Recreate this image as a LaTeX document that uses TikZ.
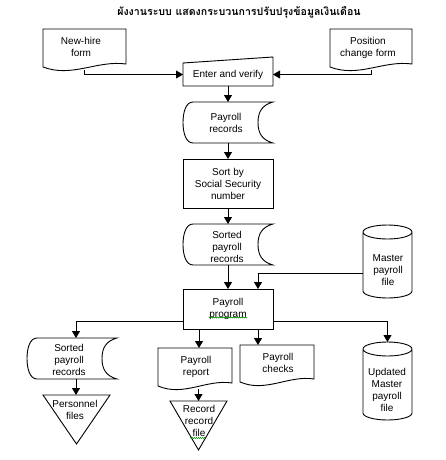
\documentclass[tikz,border=0pt]{standalone}
\usepackage{fontspec}
\setmainfont{Liberation Sans}
\newfontfamily\thaifont[Script=Thai]{Loma}
\usetikzlibrary{arrows.meta,calc,decorations.pathmorphing}

\newcommand\docshape[1]{%
  \draw[outl] let \p1=(#1.south west), \p2=(#1.north east) in
    (#1.north west) -- (#1.north east) -- (\x2,{\y1+6pt})
    .. controls ({\x2-0.35*(\x2-\x1)},{\y1+10pt}) and ({\x1+0.35*(\x2-\x1)},{\y1-8pt}) .. (\x1,{\y1+3pt})
    -- cycle;}
\newcommand\sdshape[1]{%
  \draw[outl] let \p1=(#1.south west), \p2=(#1.north east) in
    ({\x1+10pt},\y2) -- (\x2,\y2)
    .. controls ({\x2-11pt},{\y2-3pt}) and ({\x2-15pt},{\y2-10pt}) .. ({\x2-15pt},{0.5*(\y1+\y2)})
    .. controls ({\x2-15pt},{\y1+10pt}) and ({\x2-11pt},{\y1+3pt}) .. (\x2,\y1)
    -- ({\x1+10pt},\y1)
    .. controls ({\x1+3pt},\y1) and (\x1,{\y1+10pt}) .. (\x1,{0.5*(\y1+\y2)})
    .. controls (\x1,{\y2-10pt}) and ({\x1+3pt},\y2) .. ({\x1+10pt},\y2);}
\newcommand\cylshape[1]{%
  \draw[outl] let \p1=(#1.south west), \p2=(#1.north east) in
    (\x1,{\y2-7pt}) -- (\x1,{\y1+7pt})
    arc[start angle=180,end angle=360,x radius=24.5pt,y radius=7pt]
    -- (\x2,{\y2-7pt})
    ({0.5*(\x1+\x2)},{\y2-7pt}) ellipse [x radius=24.5pt,y radius=7pt];}
\newcommand\trishape[1]{%
  \draw[outl] (#1.north west) -- (#1.north east) -- (#1.south) -- cycle;}
\newcommand\manshape[1]{%
  \draw[outl] (#1.south west) -- (#1.north west) -- ([yshift=6pt]#1.north east) -- (#1.south east) -- cycle;}

\begin{document}
\begin{tikzpicture}[x=1pt,y=-1pt,
  line width=0.9pt,
  outl/.style={line width=0.9pt, line join=miter},
  frame/.style={inner sep=0pt, outer sep=0pt},
  txt/.style={align=center, font=\fontsize{10}{12}\selectfont, inner sep=0pt},
  rbox/.style={frame, draw, txt},
  arr/.style={line width=0.9pt, -{Triangle[length=7pt,width=8pt]}},
  spell/.style={green!55!black, line width=0.5pt, decorate,
     decoration={zigzag,amplitude=0.6pt,segment length=2pt}}
]
\fill[white] (0,0) rectangle (445,460);
\useasboundingbox (0,0) rectangle (445,460);

% title
\node[font=\thaifont\bfseries\fontsize{10.6}{13}\selectfont] (title) at (239,12)
  {ผังงานระบบ แสดงกระบวนการปรับปรุงข้อมูลเงินเดือน};

% input documents
\node[frame, minimum width=83pt, minimum height=41pt] (newhire) at (84.5,49.5) {};
\docshape{newhire}
\node[txt] (newhire-t) at (81,47) {New-hire\\form};

\node[frame, minimum width=82pt, minimum height=41pt] (poschange) at (371,49.5) {};
\docshape{poschange}
\node[txt] (poschange-t) at (368,48) {Position\\change form};

% enter and verify (manual input)
\node[frame, txt, minimum width=90pt, minimum height=23pt] (enter) at (228,74.5) {Enter and verify};
\manshape{enter}

% payroll records
\node[frame, minimum width=90pt, minimum height=41pt] (precs) at (228,122.5) {};
\sdshape{precs}
\node[txt] (precs-t) at (226,123) {Payroll\\records};

% sort
\node[rbox, minimum width=90pt, minimum height=49pt] (sort) at (228,183.5) {Sort by\\Social Security\\number};

% sorted payroll records
\node[frame, minimum width=90pt, minimum height=41pt] (sprecs) at (228,244.5) {};
\sdshape{sprecs}
\node[txt] (sprecs-t) at (227,247) {Sorted\\payroll\\records};

% master payroll file
\node[frame, minimum width=49pt, minimum height=73pt] (master) at (387.5,261.5) {};
\cylshape{master}
\node[txt] (master-t) at (388,270) {Master\\payroll\\file};

% payroll program
\node[rbox, minimum width=90pt, minimum height=40pt] (prog) at (228,309) {Payroll\\program};
\draw[spell] (209,317.5) -- (247,317.5);

% outputs
\node[frame, minimum width=90pt, minimum height=41pt] (sprecs2) at (72,358.5) {};
\sdshape{sprecs2}
\node[txt] (sprecs2-t) at (69,360) {Sorted\\payroll\\records};

\node[frame, minimum width=67pt, minimum height=49pt] (pers) at (76.5,419.5) {};
\trishape{pers}
\node[txt] (pers-t) at (75,409.5) {Personnel\\files};

\node[frame, minimum width=74pt, minimum height=41pt] (report) at (195,368.5) {};
\docshape{report}
\node[txt] (report-t) at (196,367) {Payroll\\report};

\node[frame, minimum width=57pt, minimum height=49pt] (recfile) at (198.5,425.5) {};
\trishape{recfile}
\node[txt] (recfile-t) at (199,421) {Record\\record\\file};
\draw[spell] (190,438) -- (205,438);

\node[frame, minimum width=74pt, minimum height=40pt] (checks) at (277,365) {};
\docshape{checks}
\node[txt] (checks-t) at (278,363) {Payroll\\checks};

\node[frame, minimum width=49pt, minimum height=78pt] (upd) at (387.5,381) {};
\cylshape{upd}
\node[txt] (upd-t) at (387,390) {Updated\\Master\\payroll\\file};

% connectors
\draw[arr] (newhire.south) |- (enter.west);
\draw[arr] (poschange.south) |- (enter.east);
\draw[arr] (enter.south) -- (precs.north);
\draw[arr] (precs.south) -- (sort.north);
\draw[arr] (sort.south) -- (sprecs.north);
\draw[arr] (sprecs.south) -- (prog.north);
\draw[arr] ([yshift=-11.5pt]master.west) -| ([xshift=30pt]prog.north);
\draw[arr] ([yshift=-12pt]prog.west) -| ([xshift=4pt]sprecs2.north);
\draw[arr] ([yshift=-12pt]prog.east) -| (upd.north);
\draw[arr] ([xshift=-29pt]prog.south) -- ([xshift=-29pt]prog.south |- report.north);
\draw[arr] ([xshift=30pt]prog.south) -- ([xshift=30pt]prog.south |- checks.north);
\draw[arr] ([xshift=4pt]sprecs2.south) -- ([xshift=4pt]sprecs2.south |- pers.north);
\draw[arr] (recfile.north |- report.south) -- (recfile.north);
\end{tikzpicture}
\end{document}
